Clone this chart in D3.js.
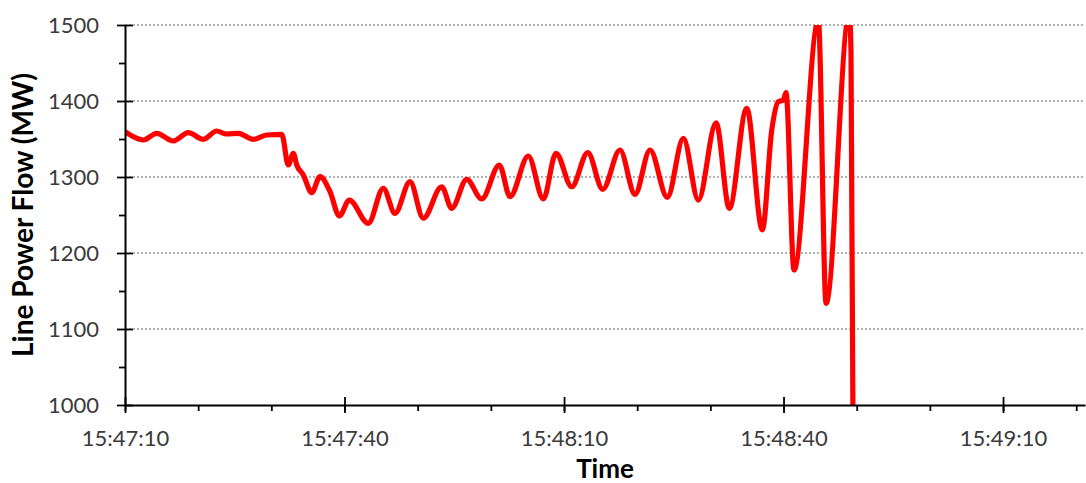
<!DOCTYPE html>
<html>
<head>
<meta charset="utf-8">
<script src="https://cdn.jsdelivr.net/npm/d3@7"></script>
<style>
  html, body { margin: 0; padding: 0; background: #fff; }
  svg { display: block; }
  .tick text { font-family: Lato, "Open Sans", sans-serif; font-size: 22px; fill: #3a3a3a; }
  .axis-title { font-family: Lato, "Open Sans", sans-serif; font-weight: 700; fill: #000; }
</style>
</head>
<body>
<svg id="chart" width="1086" height="483"></svg>
<script>
// Recording start and samples of line power flow (seconds after start, MW)
const startTime = "15:47:10";
const secondsAfterStart = [
  0, 2.5, 4.33, 6.6, 8.65, 10.7, 12.53, 13.9, 15.49, 17.54, 19.37, 21.42,
  22.32, 23.0, 23.47, 24.37, 25.52, 26.65, 28.02, 29.29, 30.66, 33.25,
  35.3, 36.9, 38.95, 40.77, 43.28, 44.65, 46.7, 48.75, 51.16, 52.62,
  55.12, 57.17, 58.91, 61.05, 63.24, 65.29, 67.65, 69.7, 71.75, 74.12,
  76.31, 78.36, 80.78, 82.59, 84.97, 87.1, 88.39, 89.29, 89.97, 90.34,
  91.43, 94.76, 95.81, 98.99, 99.22, 99.5
];
const flowMW = [
  1359.6, 1348.7, 1357.5, 1347.4, 1358.3, 1349.6, 1360.5, 1356.6, 1357.5, 1349.6, 1355.3, 1356.2,
  1315.8, 1331.2, 1315.8, 1302.6, 1279.3, 1300.4, 1280.7, 1248.7, 1269.7, 1239.1,
  1285.1, 1252.2, 1293.8, 1245.7, 1287.2, 1258.8, 1297.0, 1271.1, 1315.8, 1274.1,
  1327.6, 1271.1, 1331.2, 1287.2, 1332.0, 1283.8, 1335.5, 1277.2, 1335.5, 1273.3,
  1350.9, 1269.7, 1371.4, 1258.8, 1390.4, 1230.3, 1361.8, 1399.1, 1401.3, 1410.9,
  1177.6, 1506, 1133.8, 1515, 1464.9, 960
];
const yTickValues = [1000, 1100, 1200, 1300, 1400, 1500];
const yMinorValues = [1050, 1150, 1250, 1350, 1450];
const xTickLabels = ["15:47:10", "15:47:40", "15:48:10", "15:48:40", "15:49:10"];
const axisEndSeconds = 131.2;
const xTitle = "Time";
const yTitle = "Line Power Flow (MW)";

const W = 1086, H = 483;
const margin = { top: 25, right: 1, bottom: 78, left: 125 };
const iw = W - margin.left - margin.right;
const ih = H - margin.top - margin.bottom;

const parseTime = d3.timeParse("%H:%M:%S");
const fmtTime = d3.timeFormat("%H:%M:%S");
const t0 = parseTime(startTime);
const at = s => new Date(t0.getTime() + s * 1000);

const x = d3.scaleTime().domain([t0, at(axisEndSeconds)]).range([0, iw]);
const y = d3.scaleLinear().domain([1000, 1500]).range([ih, 0]);

const svg = d3.select("#chart");
const g = svg.append("g").attr("transform", `translate(${margin.left},${margin.top})`);

// dotted horizontal gridlines
g.append("g").selectAll("line")
  .data(yTickValues.filter(v => v > 1000))
  .join("line")
  .attr("x1", 0).attr("x2", iw)
  .attr("y1", d => y(d)).attr("y2", d => y(d))
  .attr("stroke", "#9a9a9a").attr("stroke-width", 1.3)
  .attr("stroke-dasharray", "2,2");

// plot-area clip for the trace
svg.append("defs").append("clipPath").attr("id", "plot-clip")
  .append("rect").attr("x", 0).attr("y", 0).attr("width", iw).attr("height", ih);

const samples = secondsAfterStart.map((s, i) => ({ t: at(s), v: flowMW[i] }));
const line = d3.line().x(d => x(d.t)).y(d => y(d.v)).curve(d3.curveMonotoneX);

g.append("path")
  .datum(samples)
  .attr("clip-path", "url(#plot-clip)")
  .attr("fill", "none")
  .attr("stroke", "#ff0000")
  .attr("stroke-width", 5.2)
  .attr("stroke-linejoin", "round")
  .attr("stroke-linecap", "round")
  .attr("d", line);

// x axis: minor ticks every 10 s, major every 30 s
const majorTimes = xTickLabels.map(parseTime);
const minorTimes = d3.range(0, axisEndSeconds, 10).map(at);

const xMinor = g.append("g").attr("transform", `translate(0,${ih})`)
  .call(d3.axisBottom(x).tickValues(minorTimes).tickFormat("").tickSizeInner(6).tickSizeOuter(0));
const xMajor = g.append("g").attr("transform", `translate(0,${ih})`)
  .call(d3.axisBottom(x).tickValues(majorTimes).tickFormat(fmtTime).tickSizeInner(8).tickSizeOuter(0).tickPadding(17));
xMajor.selectAll(".tick line").attr("y1", -8).attr("y2", 8);
xMinor.select(".domain").remove();

// y axis
const yMinor = g.append("g")
  .call(d3.axisLeft(y).tickValues(yMinorValues).tickFormat("").tickSizeInner(6).tickSizeOuter(0));
const yMajor = g.append("g")
  .call(d3.axisLeft(y).tickValues(yTickValues).tickFormat(d3.format("d")).tickSizeInner(8).tickSizeOuter(0).tickPadding(18));
yMajor.selectAll(".tick line").attr("x1", -8).attr("x2", 8);
yMinor.select(".domain").remove();

svg.selectAll(".domain, .tick line").attr("stroke", "#000").attr("stroke-width", 1.8);
svg.selectAll(".domain").attr("stroke-width", 2);

// axis titles
svg.append("text").attr("class", "axis-title")
  .attr("x", margin.left + iw / 2).attr("y", 478)
  .attr("text-anchor", "middle").attr("font-size", 26)
  .text(xTitle);

svg.append("text").attr("class", "axis-title")
  .attr("transform", `translate(33,${margin.top + ih / 2}) rotate(-90)`)
  .attr("text-anchor", "middle").attr("font-size", 28)
  .text(yTitle);
</script>
</body>
</html>
